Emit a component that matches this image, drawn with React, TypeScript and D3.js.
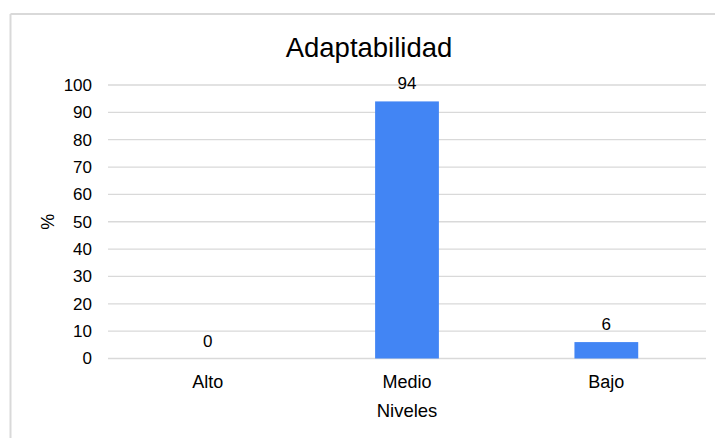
import React from "react";
import * as d3 from "d3";

const categories: string[] = ["Alto", "Medio", "Bajo"];
const values: number[] = [0, 94, 6];
const yTicks: number[] = [0, 10, 20, 30, 40, 50, 60, 70, 80, 90, 100];
const chartTitle = "Adaptabilidad";
const xTitle = "Niveles";
const yTitle = "%";

const W = 715;
const H = 438;
const plot = { left: 108, right: 706, top: 85, bottom: 358.5 };
const FONT = "'Liberation Sans', Arial, sans-serif";
const BAR = "#4285f4";
const GRID = "#d9d9d9";

export default function App() {
  const x = d3
    .scaleBand<string>()
    .domain(categories)
    .range([plot.left, plot.right])
    .paddingInner(0.68)
    .paddingOuter(0.34);
  const y = d3.scaleLinear().domain([0, 100]).range([plot.bottom, plot.top]);

  return (
    <svg
      width={W}
      height={H}
      style={{ position: "absolute", left: 0, top: 0, background: "#fff" }}
      fontFamily={FONT}
    >
      {/* chart frame */}
      <line x1={10.5} x2={W} y1={14} y2={14} stroke={GRID} strokeWidth={2} />
      <line x1={10.5} x2={10.5} y1={14} y2={H} stroke={GRID} strokeWidth={2} />

      <text x={369} y={57} textAnchor="middle" fontSize={27.5} fill="#000">
        {chartTitle}
      </text>

      {/* gridlines and y ticks */}
      {yTicks.map((t) => (
        <g key={t}>
          <line
            x1={plot.left}
            x2={plot.right}
            y1={y(t)}
            y2={y(t)}
            stroke={GRID}
            strokeWidth={1.3}
          />
          <text
            x={92}
            y={y(t)}
            dy="0.35em"
            textAnchor="end"
            fontSize={17}
            fill="#000"
          >
            {t}
          </text>
        </g>
      ))}

      {/* bars */}
      {categories.map((c, i) => (
        <g key={c}>
          <rect
            x={x(c)}
            y={y(values[i])}
            width={x.bandwidth()}
            height={y(0) - y(values[i])}
            fill={BAR}
          />
          <text
            x={(x(c) ?? 0) + x.bandwidth() / 2}
            y={y(values[i]) - 12}
            textAnchor="middle"
            fontSize={17}
            fill="#000"
          >
            {values[i]}
          </text>
          <text
            x={(x(c) ?? 0) + x.bandwidth() / 2}
            y={388}
            textAnchor="middle"
            fontSize={18}
            fill="#000"
          >
            {c}
          </text>
        </g>
      ))}

      <text x={407} y={417} textAnchor="middle" fontSize={18.5} fill="#000">
        {xTitle}
      </text>
      <text
        transform={`translate(54, ${(plot.top + plot.bottom) / 2}) rotate(-90)`}
        textAnchor="middle"
        fontSize={18}
        fill="#000"
      >
        {yTitle}
      </text>
    </svg>
  );
}
